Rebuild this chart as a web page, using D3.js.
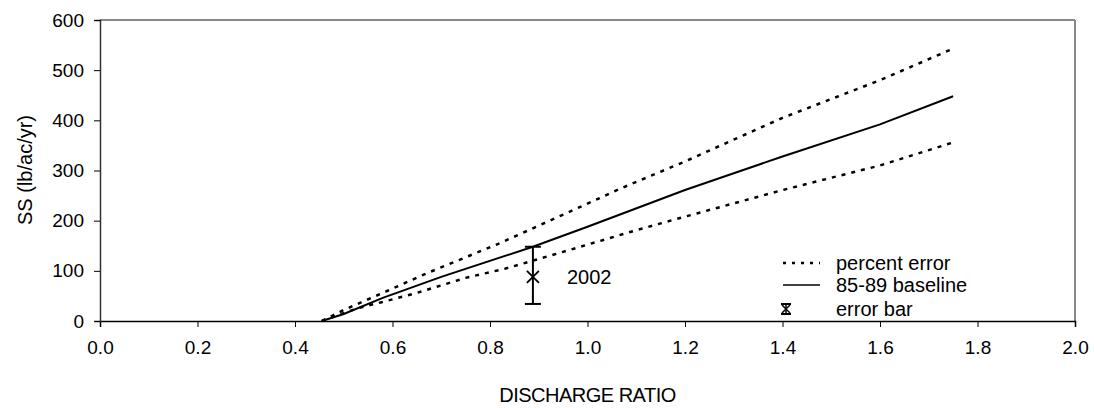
<!DOCTYPE html>
<html><head><meta charset="utf-8">
<script src="https://cdn.jsdelivr.net/npm/d3@7"></script>
<style>
html,body{margin:0;padding:0;background:#fff;}
text{font-family:"Liberation Sans",Arial,sans-serif;fill:#000;}
</style></head>
<body><svg id="c" width="1094" height="408"></svg>
<script>
// Data
const baselineX = [0.455, 0.5, 0.58, 0.7, 0.888, 1.0, 1.2, 1.4, 1.6, 1.75];
const baselineY = [0, 14, 46, 88, 148, 188, 261, 328, 392, 448];
const upperX = [0.455, 0.5, 0.58, 0.67, 0.82, 1.0, 1.07, 1.2, 1.4, 1.6, 1.75];
const upperY = [0, 22, 56, 95, 155, 234, 265, 318, 405, 480, 543];
const lowerX = [0.455, 0.53, 0.58, 0.65, 0.75, 0.83, 0.94, 1.1, 1.2, 1.4, 1.6, 1.75];
const lowerY = [0, 26, 38, 56, 86, 104, 135, 181, 208, 261, 310, 356];
const errX = [0.888];
const errMid = [88];
const errLow = [34];
const errHigh = [148];
const errLabel = ["2002"];
const xTicks = [0, 0.2, 0.4, 0.6, 0.8, 1.0, 1.2, 1.4, 1.6, 1.8, 2.0];
const yTicks = [0, 100, 200, 300, 400, 500, 600];
const legendLabels = ["percent error", "85-89 baseline", "error bar"];

const svg = d3.select("#c");
const L = 100, R = 1075, T = 20, B = 321;
const x = d3.scaleLinear().domain([0, 2]).range([L, R]);
const y = d3.scaleLinear().domain([0, 600]).range([B, T]);

// frame (top & right gray)
svg.append("line").attr("x1", L).attr("x2", R).attr("y1", T).attr("y2", T).attr("stroke", "#888").attr("stroke-width", 2);
svg.append("line").attr("x1", R).attr("x2", R).attr("y1", T).attr("y2", B).attr("stroke", "#888").attr("stroke-width", 2);

// axes
const xa = svg.append("g").attr("transform", `translate(0,${B})`)
  .call(d3.axisBottom(x).tickValues(xTicks).tickFormat(d3.format(".1f")).tickSize(6).tickPadding(14));
const ya = svg.append("g").attr("transform", `translate(${L},0)`)
  .call(d3.axisLeft(y).tickValues(yTicks).tickSize(6).tickPadding(10));
[xa, ya].forEach(g => {
  g.select(".domain").attr("stroke", "#000").attr("stroke-width", 1.5);
  g.selectAll(".tick line").attr("stroke", "#000").attr("stroke-width", 1);
  g.selectAll(".tick text").attr("font-size", 19).attr("font-family", "Liberation Sans, Arial, sans-serif").attr("fill", "#000");
});
ya.select(".domain").attr("stroke", "#333");

// lines
const line = d3.line().x(d => x(d[0])).y(d => y(d[1]));
const zip = (a, b) => a.map((v, i) => [v, b[i]]);
svg.append("path").datum(zip(upperX, upperY)).attr("d", line)
  .attr("fill", "none").attr("stroke", "#000").attr("stroke-width", 2.5).attr("stroke-dasharray", "4,6");
svg.append("path").datum(zip(lowerX, lowerY)).attr("d", line)
  .attr("fill", "none").attr("stroke", "#000").attr("stroke-width", 2.5).attr("stroke-dasharray", "4,6");
svg.append("path").datum(zip(baselineX, baselineY)).attr("d", line)
  .attr("fill", "none").attr("stroke", "#000").attr("stroke-width", 2);

// error bar
errX.forEach((ex, i) => {
  const g = svg.append("g");
  const cx = x(ex);
  g.append("line").attr("x1", cx).attr("x2", cx).attr("y1", y(errLow[i])).attr("y2", y(errHigh[i])).attr("stroke", "#000").attr("stroke-width", 2);
  [errLow[i], errHigh[i]].forEach(v => g.append("line").attr("x1", cx - 8).attr("x2", cx + 8).attr("y1", y(v)).attr("y2", y(v)).attr("stroke", "#000").attr("stroke-width", 2));
  const m = y(errMid[i]), s = 6;
  g.append("path").attr("d", `M${cx - s},${m - s}L${cx + s},${m + s}M${cx - s},${m + s}L${cx + s},${m - s}`).attr("stroke", "#000").attr("stroke-width", 1.8);
  svg.append("text").attr("x", cx + 34).attr("y", m).attr("dy", "0.35em").attr("font-size", 20).text(errLabel[i]);
});

// legend
const lx = 783, lx2 = 820, tx = 836, ly = [263, 285, 309];
svg.append("line").attr("x1", lx).attr("x2", lx2).attr("y1", ly[0]).attr("y2", ly[0]).attr("stroke", "#000").attr("stroke-width", 2.5).attr("stroke-dasharray", "3,6");
svg.append("line").attr("x1", lx).attr("x2", lx2).attr("y1", ly[1]).attr("y2", ly[1]).attr("stroke", "#000").attr("stroke-width", 1.5);
{
  const cx = 786, m = ly[2], s = 4;
  svg.append("line").attr("x1", cx).attr("x2", cx).attr("y1", m - 5).attr("y2", m + 5).attr("stroke", "#000").attr("stroke-width", 1.5);
  svg.append("line").attr("x1", cx - 5).attr("x2", cx + 5).attr("y1", m - 5).attr("y2", m - 5).attr("stroke", "#000").attr("stroke-width", 2);
  svg.append("line").attr("x1", cx - 5).attr("x2", cx + 5).attr("y1", m + 5).attr("y2", m + 5).attr("stroke", "#000").attr("stroke-width", 2);
  svg.append("path").attr("d", `M${cx - s},${m - s}L${cx + s},${m + s}M${cx - s},${m + s}L${cx + s},${m - s}`).attr("stroke", "#000").attr("stroke-width", 1.5);
}
legendLabels.forEach((t, i) => svg.append("text").attr("x", tx).attr("y", ly[i]).attr("dy", "0.35em").attr("font-size", 20).text(t));

// axis titles
svg.append("text").attr("x", (L + R) / 2).attr("y", 395).attr("dy", "0.35em").attr("text-anchor", "middle")
  .attr("font-size", 20).attr("letter-spacing", -0.5).text("DISCHARGE RATIO");
svg.append("text").attr("transform", `translate(25,170) rotate(-90)`).attr("dy", "0.35em").attr("text-anchor", "middle")
  .attr("font-size", 20).text("SS (lb/ac/yr)");
</script></body></html>
